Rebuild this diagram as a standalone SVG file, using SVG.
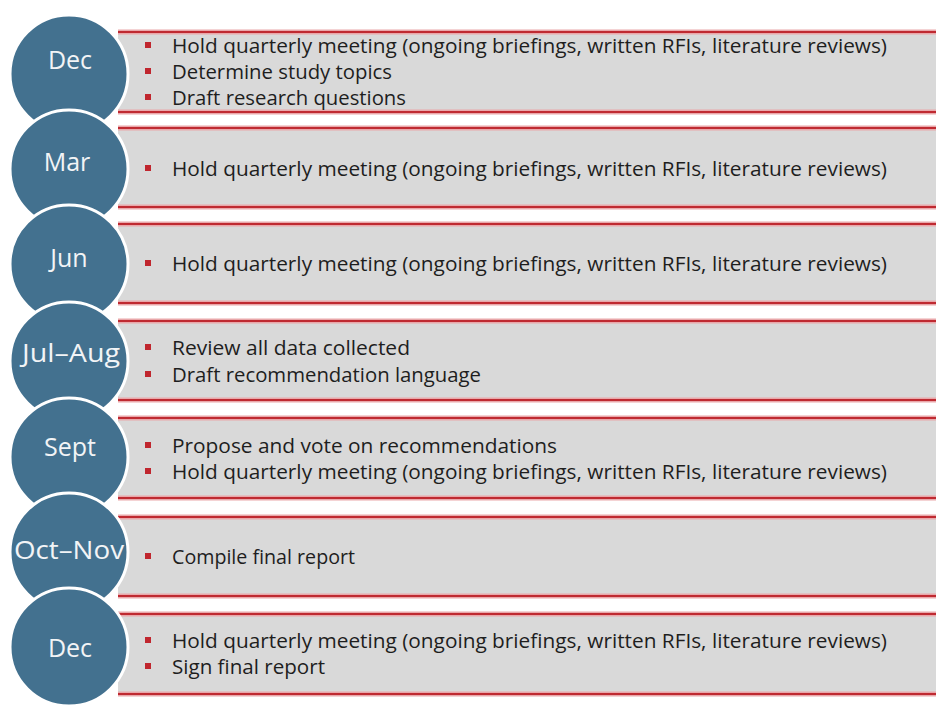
<svg xmlns="http://www.w3.org/2000/svg" width="936" height="706" viewBox="0 0 936 706">
<defs>
<style>
.box{fill:#d9d9d9}
.glow{stroke:#e9a7aa;stroke-width:5}
.red{stroke:#bf2a31;stroke-width:2.2}
.circ{fill:#43718f;stroke:#ffffff;stroke-width:3}
.mon{font-family:"Open Sans","DejaVu Sans",sans-serif;font-size:25px;fill:#f2f4f6;text-anchor:middle}
.txt{font-family:"Open Sans","DejaVu Sans",sans-serif;font-size:20.5px;fill:#1e1e1e}
.bul{fill:#c0262e}
</style>
</defs>
<rect width="936" height="706" fill="#ffffff"/>
<g id="rows">
<g id="row1">
<rect class="box" x="118" y="32" width="818" height="80"/>
<line class="glow" x1="118" y1="32" x2="936" y2="32"/><line class="red" x1="118" y1="32" x2="936" y2="32"/>
<line class="glow" x1="118" y1="112" x2="936" y2="112"/><line class="red" x1="118" y1="112" x2="936" y2="112"/>
<rect class="bul" x="145" y="42" width="6" height="6"/><text class="txt" x="172" y="53" textLength="715" lengthAdjust="spacingAndGlyphs">Hold quarterly meeting (ongoing briefings, written RFIs, literature reviews)</text>
<rect class="bul" x="145" y="68" width="6" height="6"/><text class="txt" x="172" y="79" textLength="220" lengthAdjust="spacingAndGlyphs">Determine study topics</text>
<rect class="bul" x="145" y="94" width="6" height="6"/><text class="txt" x="172" y="105" textLength="234" lengthAdjust="spacingAndGlyphs">Draft research questions</text>
</g>
<g id="row2">
<rect class="box" x="118" y="128" width="818" height="79"/>
<line class="glow" x1="118" y1="128" x2="936" y2="128"/><line class="red" x1="118" y1="128" x2="936" y2="128"/>
<line class="glow" x1="118" y1="207" x2="936" y2="207"/><line class="red" x1="118" y1="207" x2="936" y2="207"/>
<rect class="bul" x="145" y="165" width="6" height="6"/><text class="txt" x="172" y="176" textLength="715" lengthAdjust="spacingAndGlyphs">Hold quarterly meeting (ongoing briefings, written RFIs, literature reviews)</text>
</g>
<g id="row3">
<rect class="box" x="118" y="224" width="818" height="79"/>
<line class="glow" x1="118" y1="224" x2="936" y2="224"/><line class="red" x1="118" y1="224" x2="936" y2="224"/>
<line class="glow" x1="118" y1="303" x2="936" y2="303"/><line class="red" x1="118" y1="303" x2="936" y2="303"/>
<rect class="bul" x="145" y="260" width="6" height="6"/><text class="txt" x="172" y="271" textLength="715" lengthAdjust="spacingAndGlyphs">Hold quarterly meeting (ongoing briefings, written RFIs, literature reviews)</text>
</g>
<g id="row4">
<rect class="box" x="118" y="321" width="818" height="79"/>
<line class="glow" x1="118" y1="321" x2="936" y2="321"/><line class="red" x1="118" y1="321" x2="936" y2="321"/>
<line class="glow" x1="118" y1="400" x2="936" y2="400"/><line class="red" x1="118" y1="400" x2="936" y2="400"/>
<rect class="bul" x="145" y="344" width="6" height="6"/><text class="txt" x="172" y="355" textLength="238" lengthAdjust="spacingAndGlyphs">Review all data collected</text>
<rect class="bul" x="145" y="371" width="6" height="6"/><text class="txt" x="172" y="382" textLength="309" lengthAdjust="spacingAndGlyphs">Draft recommendation language</text>
</g>
<g id="row5">
<rect class="box" x="118" y="418" width="818" height="80"/>
<line class="glow" x1="118" y1="418" x2="936" y2="418"/><line class="red" x1="118" y1="418" x2="936" y2="418"/>
<line class="glow" x1="118" y1="498" x2="936" y2="498"/><line class="red" x1="118" y1="498" x2="936" y2="498"/>
<rect class="bul" x="145" y="442" width="6" height="6"/><text class="txt" x="172" y="453" textLength="385" lengthAdjust="spacingAndGlyphs">Propose and vote on recommendations</text>
<rect class="bul" x="145" y="468" width="6" height="6"/><text class="txt" x="172" y="479" textLength="715" lengthAdjust="spacingAndGlyphs">Hold quarterly meeting (ongoing briefings, written RFIs, literature reviews)</text>
</g>
<g id="row6">
<rect class="box" x="118" y="517" width="818" height="79"/>
<line class="glow" x1="118" y1="517" x2="936" y2="517"/><line class="red" x1="118" y1="517" x2="936" y2="517"/>
<line class="glow" x1="118" y1="596" x2="936" y2="596"/><line class="red" x1="118" y1="596" x2="936" y2="596"/>
<rect class="bul" x="145" y="553" width="6" height="6"/><text class="txt" x="172" y="564" textLength="183" lengthAdjust="spacingAndGlyphs">Compile final report</text>
</g>
<g id="row7">
<rect class="box" x="118" y="614" width="818" height="80"/>
<line class="glow" x1="118" y1="614" x2="936" y2="614"/><line class="red" x1="118" y1="614" x2="936" y2="614"/>
<line class="glow" x1="118" y1="694" x2="936" y2="694"/><line class="red" x1="118" y1="694" x2="936" y2="694"/>
<rect class="bul" x="145" y="637" width="6" height="6"/><text class="txt" x="172" y="648" textLength="715" lengthAdjust="spacingAndGlyphs">Hold quarterly meeting (ongoing briefings, written RFIs, literature reviews)</text>
<rect class="bul" x="145" y="663" width="6" height="6"/><text class="txt" x="172" y="674" textLength="153" lengthAdjust="spacingAndGlyphs">Sign final report</text>
</g>
</g>
<g id="circles">
<g id="m1"><circle class="circ" cx="69" cy="74" r="59"/><text class="mon" x="70" y="69">Dec</text></g>
<g id="m2"><circle class="circ" cx="69" cy="169" r="59"/><text class="mon" x="67" y="171">Mar</text></g>
<g id="m3"><circle class="circ" cx="69" cy="264" r="59"/><text class="mon" x="69" y="267">Jun</text></g>
<g id="m4"><circle class="circ" cx="69" cy="361" r="59"/><text class="mon" x="71" y="362" textLength="98" lengthAdjust="spacingAndGlyphs">Jul–Aug</text></g>
<g id="m5"><circle class="circ" cx="69" cy="457" r="59"/><text class="mon" x="70" y="456">Sept</text></g>
<g id="m6"><circle class="circ" cx="69" cy="552" r="59"/><text class="mon" x="69" y="559" textLength="110" lengthAdjust="spacingAndGlyphs">Oct–Nov</text></g>
<g id="m7"><circle class="circ" cx="69" cy="647" r="59"/><text class="mon" x="70" y="657">Dec</text></g>
</g>
</svg>
